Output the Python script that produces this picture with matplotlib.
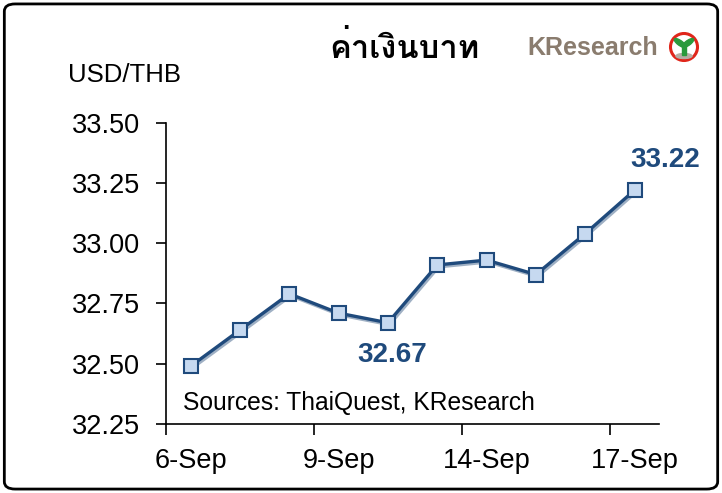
import matplotlib
matplotlib.use("Agg")
import matplotlib.pyplot as plt
import matplotlib.transforms as mtransforms
from matplotlib.patches import FancyBboxPatch, Ellipse, Polygon

plt.rcParams['font.family'] = ['Liberation Sans', 'DejaVu Sans']

dates = ['6-Sep', '7-Sep', '8-Sep', '9-Sep', '10-Sep', '13-Sep', '14-Sep', '15-Sep', '16-Sep', '17-Sep']
rate = [32.49, 32.64, 32.79, 32.71, 32.67, 32.91, 32.93, 32.87, 33.04, 33.22]
label_idx = [0, 3, 6, 9]
yticks = [32.25, 32.50, 32.75, 33.00, 33.25, 33.50]

navy = '#1f4a7c'
x = list(range(len(rate)))

fig = plt.figure(figsize=(7.22, 4.93), dpi=100)
ax = fig.add_axes([0.230, 0.140, 0.683, 0.611])

# light shadow line under the main one
shadow = mtransforms.offset_copy(ax.transData, fig=fig, x=1.5, y=-2, units='dots')
ax.plot(x, rate, color='#9fb0c4', lw=2.2, transform=shadow, zorder=2)
ax.plot(x, rate, color=navy, lw=2.4, zorder=3,
        marker='s', markersize=10, markerfacecolor='#c6d9f0',
        markeredgecolor=navy, markeredgewidth=1.5)

ax.set_xlim(-0.5, len(rate) - 0.5)
ax.set_ylim(32.25, 33.5)
ax.set_yticks(yticks)
ax.set_yticklabels(['%.2f' % v for v in yticks], fontsize=19.5)
ax.set_xticks([i - 0.5 for i in label_idx])
ax.set_xticklabels([])
ax.set_xticks(label_idx, minor=True)
ax.set_xticklabels([dates[i] for i in label_idx], minor=True, fontsize=19.5)
ax.tick_params(axis='x', which='minor', length=0, pad=17)
ax.tick_params(axis='x', which='major', length=8, width=1.2, direction='out')
ax.tick_params(axis='y', length=7, width=1.2, direction='out', pad=12)
for s in ['top', 'right']:
    ax.spines[s].set_visible(False)
for s in ['left', 'bottom']:
    ax.spines[s].set_linewidth(1.2)

ax.annotate('%.2f' % rate[9], (9, rate[9]), xytext=(22, 22), textcoords='offset points',
            ha='center', va='center', fontsize=20, fontweight='bold', color=navy)
ax.annotate('%.2f' % rate[4], (4, rate[4]), xytext=(3, -23), textcoords='offset points',
            ha='center', va='center', fontsize=20, fontweight='bold', color=navy)

ax.text(0.035, 0.07, 'Sources: ThaiQuest, KResearch', transform=ax.transAxes,
        fontsize=17.7, va='center', ha='left')

fig.text(0.094, 0.848, 'USD/THB', fontsize=18.5, ha='left', va='center')
fig.text(0.560, 0.903, 'ค่าเงินบาท', fontsize=23.5, fontweight='bold', ha='center', va='center',
         family=['Loma', 'Noto Sans Thai', 'DejaVu Sans'])

# KResearch logo
fig.text(0.730, 0.903, 'KResearch', fontsize=18, fontweight='bold', color='#8a7c6e',
         ha='left', va='center')
cx, cy = 684 / 722, 1 - 47 / 493
w, h = 1 / 722, 1 / 493
fig.patches.append(Ellipse((cx, cy), 27 * w, 27 * h, transform=fig.transFigure,
                           fill=False, edgecolor='#e0261b', lw=2.2))
fig.patches.append(Ellipse((cx, cy - 9 * h), 16 * w, 5 * h, transform=fig.transFigure,
                           color='#b5ada3'))
fig.patches.append(Polygon([(cx - 1.5 * w, cy - 8 * h), (cx + 1.5 * w, cy - 8 * h),
                            (cx + 1.5 * w, cy + 2 * h), (cx - 1.5 * w, cy + 2 * h)],
                           transform=fig.transFigure, color='#2a9a3c'))
fig.patches.append(Ellipse((cx - 4 * w, cy + 4 * h), 6 * w, 11 * h, angle=40,
                           transform=fig.transFigure, color='#2a9a3c'))
fig.patches.append(Ellipse((cx + 4 * w, cy + 4 * h), 6 * w, 11 * h, angle=-40,
                           transform=fig.transFigure, color='#2a9a3c'))

fig.patches.append(FancyBboxPatch((0.006, 0.008), 0.988, 0.984, boxstyle='round,pad=0,rounding_size=0.015',
                                  transform=fig.transFigure, fill=False, edgecolor='black', lw=2))

fig.savefig('out.png', dpi=100)
